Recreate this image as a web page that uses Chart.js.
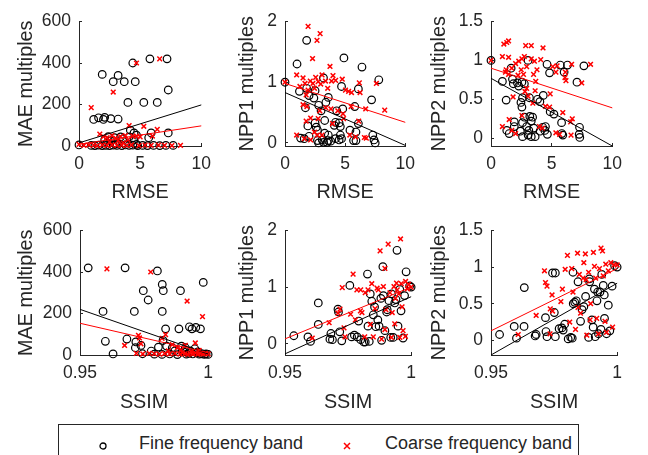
<!DOCTYPE html>
<html>
<head>
<meta charset="utf-8">
<script src="https://cdn.jsdelivr.net/npm/chart.js@4.4.1/dist/chart.umd.min.js"></script>
<style>
  body { margin: 0; width: 648px; height: 455px; background: #fff; position: relative; overflow: hidden;
         font-family: "Liberation Sans", Arial, sans-serif; color: #262626; }
  canvas { position: absolute; }
  #legend { position: absolute; left: 58px; top: 424px; width: 521px; height: 60px; border: 1px solid #262626; box-sizing: border-box; }
  .lg-item { position: absolute; top: 8px; font-size: 18px; white-space: nowrap; }
  .lg-mark { position: absolute; }
</style>
</head>
<body>
<div id="legend"></div>
<script>
// tick labels and axis ranges
const rmseTicks = [0, 5, 10];
const ssimTicks = [0.95, 1];
const maeTicks = [0, 200, 400, 600];
const npp1Ticks = [0, 1, 2];
const npp2Ticks = [0, 0.5, 1, 1.5];
const rmseRange = [0, 10];
const ssimRange = [0.95, 1];
const maeRange = [0, 600];
const npp1Range = [-0.05, 2];
const npp1RangeB = [-0.2, 2];
const npp2Range = [-0.1, 1.5];
const npp2RangeB = [-0.2, 1.5];

const seriesNames = ["Fine frequency band", "Coarse frequency band"];

// RMSE vs MAE multiples
const fineRmseMae = [[0,5],[5.8,420],[7.2,420],[4.4,400],[1.9,345],[3.2,340],[2.8,310],[3.7,310],[4.6,310],[7.3,270],
  [4.0,210],[5.3,210],[6.4,210],[1.2,128],[1.6,136],[2.1,138],[2.0,128],[2.6,132],[3.2,130],[7.3,63],[5.7,40],[4.2,76],
  [4.5,63],[5.9,63],[2.4,45],[2.9,40],[3.4,44],[3.6,35],[4.1,44],[4.5,29],[2.6,25],[4.7,52],[2.1,29],[1.0,3],[1.3,2],
  [1.6,4],[1.9,2],[2.2,3],[2.5,2],[2.8,4],[3.1,3],[3.5,2],[3.8,5],[4.1,3],[4.4,4],[4.8,2],[5.2,3],[5.6,2],[6.1,3],
  [6.6,2],[7.1,3],[7.7,3],[3.0,10],[2.3,15],[4.7,8]];
const coarseRmseMae = [[0,8],[1.0,185],[2.8,260],[4.7,400],[6.6,420],[1.7,57],[4.1,98],[5.3,95],[6.4,80],[4.7,48],
  [6.0,48],[2.0,45],[2.3,40],[2.7,50],[3.0,38],[3.4,45],[3.8,50],[4.4,48],[5.0,44],[2.5,20],[3.6,15],[0.4,3],[0.8,5],
  [1.2,4],[1.5,2],[1.9,5],[2.3,3],[2.7,5],[3.1,3],[3.5,4],[3.9,3],[4.3,5],[4.9,2],[5.4,4],[5.9,3],[6.5,4],[7.0,3],
  [7.6,2],[8.3,3],[3.2,25],[4.0,30]];
const fitFineRmseMae = [15, 198];
const fitCoarseRmseMae = [8, 97];

// RMSE vs NPP1 multiples
const fineRmseNpp1 = [[0,1.0],[1.8,1.69],[1.0,1.30],[4.9,1.40],[6.4,1.25],[3.2,1.07],[7.8,1.04],[1.8,0.90],[4.7,0.93],
  [6.1,0.89],[1.2,0.85],[2.5,0.86],[2.0,0.78],[2.4,0.74],[3.6,0.75],[7.2,0.71],[3.4,0.67],[1.7,0.58],[2.8,0.62],
  [3.0,0.53],[4.3,0.53],[4.8,0.56],[5.8,0.60],[3.3,0.37],[4.2,0.34],[4.5,0.33],[2.5,0.33],[4.1,0.29],[6.1,0.32],
  [1.9,0.28],[2.6,0.26],[4.6,0.27],[2.7,0.21],[5.4,0.21],[5.9,0.18],[3.3,0.16],[7.3,0.13],[2.0,0.11],[3.6,0.13],
  [4.6,0.13],[1.3,0.08],[1.6,0.07],[2.7,0.04],[3.1,0.05],[3.6,0.04],[4.2,0.07],[4.5,0.05],[4.7,0.07],[5.7,0.04],
  [5.9,0.04],[7.4,0.05],[7.5,0.0],[3.2,0.01],[3.5,0.01],[3.8,0.03],[2.8,0.0]];
const coarseRmseNpp1 = [[0,1.0],[1.92,1.92],[2.92,1.80],[2.66,1.69],[2.29,1.39],[3.74,1.26],[0.97,1.12],[1.5,1.07],
  [3.08,1.12],[3.99,1.11],[2.1,1.02],[2.55,1.08],[2.76,1.01],[3.37,1.02],[4.21,1.03],[4.76,1.05],[1.66,0.98],[2.32,0.98],
  [2.97,0.97],[3.87,1.02],[6.18,0.99],[7.6,0.98],[1.24,0.93],[3.55,0.90],[1.92,0.87],[2.45,0.90],[5.03,0.87],[5.29,0.85],
  [5.53,0.83],[6.24,0.83],[1.76,0.79],[1.5,0.63],[1.82,0.60],[3.39,0.58],[3.82,0.56],[5.5,0.60],[6.71,0.56],[8.29,0.54],
  [2.89,0.53],[4.82,0.48],[4.39,0.53],[2.13,0.41],[2.76,0.40],[4.87,0.40],[1.76,0.36],[3.95,0.32],[6.13,0.36],
  [0.97,0.13],[2.68,0.13],[2.45,0.18],[1.61,0.07],[2.13,0.05],[3.08,0.13],[5.39,0.13],[5.87,0.10],[6.6,0.09],[6.76,0.08]];
const fitFineRmseNpp1 = [0.83, -0.04];
const fitCoarseRmseNpp1 = [0.98, 0.34];

// RMSE vs NPP2 multiples
const fineRmseNpp2 = [[0,1.0],[3.06,1.0],[4.62,0.95],[5.71,0.94],[6.31,0.94],[7.66,0.93],[4.83,0.84],[6.03,0.85],
  [1.66,0.90],[0.94,0.73],[1.77,0.76],[1.84,0.70],[2.18,0.71],[2.55,0.72],[2.75,0.70],[2.29,0.67],[7.09,0.72],
  [1.25,0.49],[2.6,0.52],[3.17,0.52],[3.84,0.50],[4.31,0.55],[2.47,0.46],[4.03,0.47],[2.55,0.40],[4.88,0.34],
  [5.19,0.31],[2.75,0.27],[3.2,0.28],[3.43,0.27],[1.92,0.21],[2.6,0.20],[3.32,0.22],[5.82,0.20],[7.3,0.14],
  [1.92,0.15],[2.94,0.15],[3.53,0.13],[4.26,0.14],[4.49,0.15],[1.3,0.10],[1.5,0.06],[2.42,0.09],[3.12,0.10],
  [4.05,0.09],[4.44,0.10],[4.65,0.05],[5.84,0.06],[5.92,0.04],[7.27,0.05],[3.06,0.04],[2.6,0.02],[3.32,0.02],
  [3.64,0.02],[7.32,0.01]];
const coarseRmseNpp2 = [[0,1.0],[1.06,1.21],[1.3,1.23],[1.45,1.25],[2.86,1.19],[3.32,1.19],[4.29,1.16],[0.94,1.05],
  [1.45,1.04],[2.55,1.02],[2.75,1.05],[3.32,1.02],[3.58,0.99],[4.1,1.01],[2.29,0.99],[2.03,0.96],[2.94,0.92],
  [5.09,0.92],[5.45,0.93],[6.65,0.95],[8.21,0.95],[1.25,0.88],[1.71,0.90],[2.49,0.88],[3.79,0.88],[5.35,0.85],
  [6.13,0.85],[1.19,0.85],[1.45,0.82],[2.23,0.81],[2.68,0.82],[3.51,0.82],[6.1,0.78],[6.18,0.74],[3.69,0.73],
  [7.48,0.71],[1.82,0.53],[2.94,0.64],[2.8,0.60],[3.64,0.61],[4.88,0.57],[3.06,0.54],[3.45,0.45],[4.49,0.41],
  [4.83,0.40],[2.55,0.29],[5.92,0.33],[6.7,0.25],[6.57,0.21],[1.5,0.24],[0.94,0.15],[4.0,0.15],[4.23,0.13],
  [1.71,0.10],[2.03,0.06],[5.35,0.07],[5.66,0.05],[6.6,0.04]];
const fitFineRmseNpp2 = [0.77, -0.1];
const fitCoarseRmseNpp2 = [0.90, 0.39];

// SSIM vs MAE multiples
const fineSsimMae = [[0.9532,420],[0.9676,420],[0.9802,405],[0.9821,340],[0.9825,310],[0.9747,310],[0.9892,310],
  [0.9981,350],[0.9766,265],[0.959,210],[0.9712,210],[0.9821,210],[0.9834,126],[0.9886,126],[0.9927,136],
  [0.9937,126],[0.9952,133],[0.997,126],[0.9599,66],[0.9683,77],[0.9716,35],[0.9718,63],[0.9629,5],[0.9744,6],
  [0.9738,46],[0.9778,19],[0.9806,38],[0.9824,70],[0.9838,43],[0.986,35],[0.9896,43],[0.9911,35],[0.987,20],
  [0.9905,15],[0.9925,8],[0.994,5],[0.9955,10],[0.9965,4],[0.9975,6],[0.9985,3],[0.9992,5],[1,3],[0.979,4],
  [0.982,3],[0.985,5],[0.988,2],[0.9915,4],[0.993,20],[0.9948,30],[0.996,15]];
const coarseSsimMae = [[0.9605,415],[0.9776,400],[0.9918,260],[0.9978,185],[0.9728,95],[0.9732,82],[0.9834,98],
  [0.9738,54],[0.9674,46],[0.995,58],[0.9911,47],[0.982,80],[0.986,50],[0.988,35],[0.972,8],[0.9745,5],[0.977,8],
  [0.979,6],[0.981,4],[0.983,7],[0.985,5],[0.987,8],[0.989,4],[0.99,10],[0.991,6],[0.992,3],[0.993,8],[0.994,5],
  [0.995,9],[0.996,4],[0.997,7],[0.998,5],[0.999,8],[1,5],[0.9845,20],[0.9895,25],[0.9935,18],[0.9965,22]];
const fitFineSsimMae = [220, 5];
const fitCoarseSsimMae = [153, 11];

// SSIM vs NPP1 multiples
const fineSsimNpp1 = [[0.9535,0.14],[0.9591,0.12],[0.9601,0.04],[0.9632,0.72],[0.9632,0.34],[0.9682,0.18],
  [0.9678,0.08],[0.9688,0.07],[0.971,0.61],[0.9712,0.56],[0.9717,0.21],[0.9725,0.05],[0.9757,1.03],[0.9764,0.12],
  [0.9775,0.15],[0.9786,0.12],[0.9792,0.40],[0.9812,0.03],[0.9818,0.03],[0.9827,1.23],[0.9829,0.31],[0.9834,0.04],
  [0.9838,0.88],[0.9844,0.75],[0.9855,0.65],[0.985,0.51],[0.9868,0.42],[0.9873,0.31],[0.9883,0.06],[0.9888,1.36],
  [0.989,0.85],[0.9896,0.23],[0.9903,0.56],[0.9912,0.76],[0.9919,0.11],[0.9922,0.88],[0.9929,0.11],[0.9935,0.72],
  [0.9944,1.65],[0.9948,0.31],[0.9955,0.96],[0.9968,0.10],[0.998,1.27],[0.9974,0.85],[0.9994,1.02],[1,1.0],
  [0.9905,0.60],[0.994,0.78],[0.996,0.58],[0.988,0.80],[0.986,0.30],[0.98,0.07]];
const coarseSsimNpp1 = [[0.9608,0.10],[0.9675,0.37],[0.971,0.54],[0.9718,0.61],[0.9727,0.99],[0.9734,0.28],
  [0.9738,0.12],[0.977,1.23],[0.9779,0.42],[0.9799,0.58],[0.9818,0.90],[0.9816,0.12],[0.9829,0.95],[0.9838,0.34],
  [0.9844,1.06],[0.9857,0.62],[0.9877,1.64],[0.9883,0.08],[0.989,1.01],[0.9896,1.33],[0.9896,0.25],[0.9909,1.76],
  [0.9916,0.90],[0.9922,0.11],[0.9932,1.01],[0.9938,0.80],[0.9942,1.07],[0.9951,0.88],[0.9955,0.11],[0.9958,1.85],
  [0.9961,1.06],[0.9964,0.65],[0.9968,0.23],[0.9977,0.13],[0.9978,1.10],[1,1.0],[0.9785,0.95],[0.9805,0.55],
  [0.985,0.12],[0.987,0.95],[0.99,0.60],[0.9925,0.55],[0.9945,0.95],[0.9935,0.35],[0.9985,0.97],[0.999,1.05],
  [0.98,0.95],[0.976,0.52],[0.9865,0.98]];
const fitFineSsimNpp1 = [-0.18, 0.83];
const fitCoarseSsimNpp1 = [0.085, 1.0];

// SSIM vs NPP2 multiples
const fineSsimNpp2 = [[0.9534,0.08],[0.9592,0.19],[0.9601,0.03],[0.9631,0.19],[0.9632,0.72],[0.9675,0.06],
  [0.9679,0.08],[0.9716,0.31],[0.9718,0.12],[0.9722,0.05],[0.9744,0.92],[0.9755,0.92],[0.9751,0.38],[0.9755,0.05],
  [0.977,0.16],[0.9781,0.17],[0.9786,0.14],[0.9792,0.22],[0.9806,0.02],[0.9816,0.04],[0.9822,0.03],[0.9825,0.93],
  [0.9826,0.50],[0.9832,0.52],[0.9838,0.54],[0.9855,0.26],[0.9861,0.42],[0.9868,0.46],[0.9887,0.04],[0.989,0.84],
  [0.9891,0.80],[0.99,0.28],[0.991,0.70],[0.9913,0.05],[0.992,0.54],[0.9923,0.66],[0.9926,0.09],[0.9932,0.66],
  [0.9936,0.15],[0.9939,0.90],[0.9945,0.75],[0.9949,0.62],[0.9958,0.09],[0.9965,0.48],[0.9971,0.13],[0.998,0.74],
  [0.999,1.02],[1,1.0],[0.9845,0.80],[0.9905,0.18],[0.995,0.30],[0.9875,0.60]];
const coarseSsimNpp2 = [[0.9608,0.08],[0.9679,0.34],[0.9716,0.79],[0.9722,0.74],[0.9712,0.95],[0.9742,0.62],
  [0.9735,0.43],[0.9744,0.40],[0.9734,0.09],[0.9783,0.70],[0.9777,0.53],[0.9794,0.97],[0.9803,1.16],[0.9812,0.25],
  [0.982,0.98],[0.9825,0.66],[0.9835,0.15],[0.9843,1.19],[0.9855,0.37],[0.9868,1.06],[0.9874,1.18],[0.9877,0.83],
  [0.988,0.07],[0.9887,0.93],[0.9893,0.28],[0.9906,1.20],[0.991,1.01],[0.9919,0.30],[0.9926,0.09],[0.9936,1.26],
  [0.9942,1.22],[0.9945,0.88],[0.9952,0.26],[0.9955,1.04],[0.9958,0.11],[0.9975,1.06],[0.9982,0.18],[0.9988,1.03],
  [1,1.03],[0.985,0.9],[0.9865,0.85],[0.9915,0.85],[0.993,0.98],[0.9965,0.95],[0.9895,0.5],[0.9845,0.45]];
const fitFineSsimNpp2 = [-0.2, 0.78];
const fitCoarseSsimNpp2 = [0.13, 0.98];

const INK = "#262626";
const TICK_FONT = { family: "'Liberation Sans', Arial, sans-serif", size: 17.5 };
const TITLE_FONT = { family: "'Liberation Sans', Arial, sans-serif", size: 19.8 };
const Y_AXIS_W = 80, X_AXIS_H = 64, PAD_T = 18, PAD_R = 14;

const fmt = v => String(Math.round(v * 100) / 100);
const pts = arr => arr.map(([x, y]) => ({ x, y }));

function drawPanel(p) {
  const left = p.area[0] - Y_AXIS_W, top = p.area[1] - PAD_T;
  const w = p.area[2] - left + PAD_R, h = p.area[3] - top + X_AXIS_H;
  const cv = document.createElement("canvas");
  cv.width = w; cv.height = h;
  cv.style.left = left + "px"; cv.style.top = top + "px";
  document.body.appendChild(cv);
  const half = TITLE_FONT.size * 1.2 / 2;

  const axis = (ticks, range, title, isX, titlePad) => ({
    type: "linear", min: range[0], max: range[1],
    afterFit: s => { if (isX) s.height = X_AXIS_H; else s.width = Y_AXIS_W; },
    afterBuildTicks: s => { s.ticks = ticks.map(v => ({ value: v })); },
    ticks: { font: TICK_FONT, color: INK, padding: isX ? 11 : 11, callback: fmt, maxRotation: 0, autoSkip: false },
    grid: { drawOnChartArea: false, drawTicks: true, tickLength: -3, color: INK, lineWidth: 1 },
    border: { color: INK, width: 1 },
    title: { display: true, text: title, font: TITLE_FONT, color: INK, padding: titlePad }
  });

  new Chart(cv, {
    type: "scatter",
    data: {
      datasets: [
        { label: seriesNames[0], data: pts(p.fine), pointStyle: "circle", pointRadius: 3.8, borderColor: "#000",
          backgroundColor: "rgba(0,0,0,0)", borderWidth: 1.2, order: 4, clip: false },
        { label: seriesNames[1], data: pts(p.coarse), pointStyle: "crossRot", pointRadius: 3.3, borderColor: "#ff0000",
          backgroundColor: "#ff0000", borderWidth: 1.5, order: 3, clip: false },
        { type: "line", label: "fit fine", data: p.xRange.map((x, i) => ({ x, y: p.fitFine[i] })), borderColor: "#000",
          borderWidth: 1, pointRadius: 0, order: 2, clip: false },
        { type: "line", label: "fit coarse", data: p.xRange.map((x, i) => ({ x, y: p.fitCoarse[i] })), borderColor: "#ff0000",
          borderWidth: 1, pointRadius: 0, order: 1, clip: false }
      ]
    },
    options: {
      responsive: false, animation: false, events: [],
      layout: { padding: { top: PAD_T, right: PAD_R, left: 0, bottom: 0 } },
      plugins: { legend: { display: false }, tooltip: { enabled: false } },
      scales: {
        x: axis(p.xTicks, p.xRange, p.xTitle, true, { top: 0, bottom: (p.area[3] + X_AXIS_H) - half - p.xTitleY }),
        y: axis(p.yTicks, p.yRange, p.yTitle, false, { top: p.yTitleX - left - half, bottom: 0 })
      }
    }
  });
}

const panels = [
  { fine: fineRmseMae, coarse: coarseRmseMae, fitFine: fitFineRmseMae, fitCoarse: fitCoarseRmseMae,
    xTicks: rmseTicks, xRange: rmseRange, xTitle: "RMSE", yTicks: maeTicks, yRange: maeRange, yTitle: "MAE multiples",
    area: [79, 18, 208, 146], xTitleY: 193, yTitleX: 27 },
  { fine: fineRmseNpp1, coarse: coarseRmseNpp1, fitFine: fitFineRmseNpp1, fitCoarse: fitCoarseRmseNpp1,
    xTicks: rmseTicks, xRange: rmseRange, xTitle: "RMSE", yTicks: npp1Ticks, yRange: npp1Range, yTitle: "NPP1 multiples",
    area: [285, 18, 412, 146], xTitleY: 193, yTitleX: 248 },
  { fine: fineRmseNpp2, coarse: coarseRmseNpp2, fitFine: fitFineRmseNpp2, fitCoarse: fitCoarseRmseNpp2,
    xTicks: rmseTicks, xRange: rmseRange, xTitle: "RMSE", yTicks: npp2Ticks, yRange: npp2Range, yTitle: "NPP2 multiples",
    area: [491, 18, 619, 146], xTitleY: 193, yTitleX: 440 },
  { fine: fineSsimMae, coarse: coarseSsimMae, fitFine: fitFineSsimMae, fitCoarse: fitCoarseSsimMae,
    xTicks: ssimTicks, xRange: ssimRange, xTitle: "SSIM", yTicks: maeTicks, yRange: maeRange, yTitle: "MAE multiples",
    area: [80, 227, 210, 355], xTitleY: 403, yTitleX: 27 },
  { fine: fineSsimNpp1, coarse: coarseSsimNpp1, fitFine: fitFineSsimNpp1, fitCoarse: fitCoarseSsimNpp1,
    xTicks: ssimTicks, xRange: ssimRange, xTitle: "SSIM", yTicks: npp1Ticks, yRange: npp1RangeB, yTitle: "NPP1 multiples",
    area: [285, 227, 413, 355], xTitleY: 403, yTitleX: 248 },
  { fine: fineSsimNpp2, coarse: coarseSsimNpp2, fitFine: fitFineSsimNpp2, fitCoarse: fitCoarseSsimNpp2,
    xTicks: ssimTicks, xRange: ssimRange, xTitle: "SSIM", yTicks: npp2Ticks, yRange: npp2RangeB, yTitle: "NPP2 multiples",
    area: [491, 227, 619, 355], xTitleY: 403, yTitleX: 440 }
];
panels.forEach(drawPanel);

// legend (HTML), positions relative to the legend box
const legend = document.getElementById("legend");
const legendItems = [
  { mark: '<svg width="10" height="10"><circle cx="5" cy="5" r="3" fill="none" stroke="#000" stroke-width="1.3"/></svg>', markX: 39, textX: 80 },
  { mark: '<svg width="10" height="10"><path d="M2 2L8 8M8 2L2 8" stroke="#ff0000" stroke-width="1.5"/></svg>', markX: 283, textX: 326 }
];
legendItems.forEach((it, i) => {
  const m = document.createElement("div");
  m.className = "lg-mark"; m.style.left = it.markX + "px"; m.style.top = "12px"; m.innerHTML = it.mark;
  legend.appendChild(m);
  const t = document.createElement("div");
  t.className = "lg-item"; t.style.left = it.textX + "px"; t.textContent = seriesNames[i];
  legend.appendChild(t);
});
</script>
</body>
</html>
